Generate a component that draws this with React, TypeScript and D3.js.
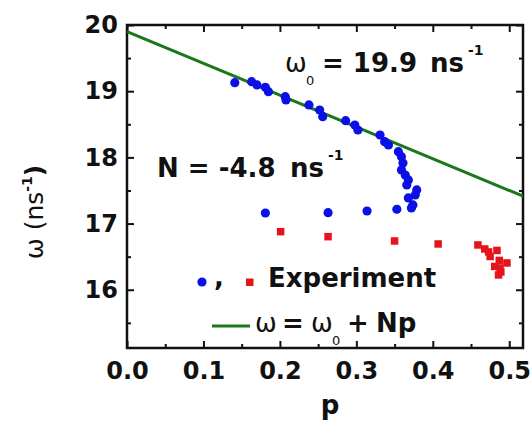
import { useRef, useEffect } from 'react';
import * as d3 from 'd3';

// blue circles (experiment, series 1)
const blueP = [
  0.141, 0.163, 0.17, 0.181, 0.185, 0.207, 0.208, 0.238, 0.252, 0.256, 0.286, 0.298, 0.302,
  0.331, 0.337, 0.342, 0.355, 0.359, 0.361, 0.359, 0.364, 0.368, 0.366, 0.379, 0.377, 0.368,
  0.374, 0.372, 0.181, 0.263, 0.314, 0.353,
];
const blueW = [
  19.128, 19.144, 19.094, 19.059, 18.992, 18.917, 18.867, 18.792, 18.716, 18.615, 18.554,
  18.489, 18.414, 18.338, 18.237, 18.187, 18.086, 18.011, 17.915, 17.81, 17.734, 17.659,
  17.583, 17.508, 17.432, 17.387, 17.281, 17.236, 17.16, 17.165, 17.19, 17.216,
];

// red squares (experiment, series 2)
const redP = [
  0.201, 0.263, 0.35, 0.407, 0.459, 0.468, 0.473, 0.484, 0.475, 0.487, 0.497, 0.481, 0.488,
  0.489, 0.486,
];
const redW = [
  16.878, 16.802, 16.737, 16.692, 16.677, 16.616, 16.571, 16.594, 16.503, 16.443, 16.405,
  16.352, 16.329, 16.269, 16.224,
];

// fit: omega = omega0 + N p
const omega0 = 19.9;
const slopeN = -4.8;

const xTicks = [0, 0.1, 0.2, 0.3, 0.4, 0.5];
const xMinor = [0.05, 0.15, 0.25, 0.35, 0.45];
const yTicks = [16, 17, 18, 19, 20];
const yMinor = [15.5, 16.5, 17.5, 18.5, 19.5];

const FONT = "'DejaVu Sans', sans-serif";

function App() {
  const svgRef = useRef<SVGSVGElement>(null);
  const width = 531;
  const height = 422;

  useEffect(() => {
    const margin = { top: 25, right: 8, bottom: 74, left: 127 };
    const svg = d3.select(svgRef.current);
    svg.selectAll('*').remove();

    const x = d3.scaleLinear().domain([0, 0.518]).range([margin.left, width - margin.right]);
    const y = d3.scaleLinear().domain([15.12, 20]).range([height - margin.bottom, margin.top]);

    const axisStyle = (g: any) => {
      g.select('.domain').remove();
      g.selectAll('line').attr('stroke', '#111').attr('stroke-width', 2);
      g.selectAll('text')
        .attr('fill', '#111')
        .style('font-family', FONT)
        .style('font-weight', 'bold')
        .style('font-size', '24px');
    };

    // bottom
    svg.append('g')
      .attr('transform', `translate(0,${y.range()[0]})`)
      .call(d3.axisBottom(x).tickValues(xTicks).tickSizeInner(-7).tickSizeOuter(0)
        .tickPadding(14).tickFormat(d3.format('.1f')))
      .call(axisStyle);
    svg.append('g')
      .attr('transform', `translate(0,${y.range()[0]})`)
      .call(d3.axisBottom(x).tickValues(xMinor).tickSizeInner(-4).tickSizeOuter(0).tickFormat(() => ''))
      .call(axisStyle);
    // top
    svg.append('g')
      .attr('transform', `translate(0,${margin.top})`)
      .call(d3.axisTop(x).tickValues(xTicks).tickSizeInner(-7).tickSizeOuter(0).tickFormat(() => ''))
      .call(axisStyle);
    svg.append('g')
      .attr('transform', `translate(0,${margin.top})`)
      .call(d3.axisTop(x).tickValues(xMinor).tickSizeInner(-4).tickSizeOuter(0).tickFormat(() => ''))
      .call(axisStyle);
    // left
    svg.append('g')
      .attr('transform', `translate(${margin.left},0)`)
      .call(d3.axisLeft(y).tickValues(yTicks).tickSizeInner(-7).tickSizeOuter(0).tickPadding(9)
        .tickFormat(d3.format('d')))
      .call(axisStyle);
    svg.append('g')
      .attr('transform', `translate(${margin.left},0)`)
      .call(d3.axisLeft(y).tickValues(yMinor).tickSizeInner(-4).tickSizeOuter(0).tickFormat(() => ''))
      .call(axisStyle);
    // right
    svg.append('g')
      .attr('transform', `translate(${width - margin.right},0)`)
      .call(d3.axisRight(y).tickValues(yTicks).tickSizeInner(-7).tickSizeOuter(0).tickFormat(() => ''))
      .call(axisStyle);
    svg.append('g')
      .attr('transform', `translate(${width - margin.right},0)`)
      .call(d3.axisRight(y).tickValues(yMinor).tickSizeInner(-4).tickSizeOuter(0).tickFormat(() => ''))
      .call(axisStyle);

    // frame
    svg.append('rect')
      .attr('x', margin.left)
      .attr('y', margin.top)
      .attr('width', width - margin.left - margin.right)
      .attr('height', height - margin.top - margin.bottom)
      .attr('fill', 'none')
      .attr('stroke', '#111')
      .attr('stroke-width', 2.5);

    // clip
    svg.append('clipPath').attr('id', 'plot-clip')
      .append('rect')
      .attr('x', margin.left)
      .attr('y', margin.top)
      .attr('width', width - margin.left - margin.right)
      .attr('height', height - margin.top - margin.bottom);

    // fit line
    const fitP = x.domain();
    const line = d3.line<number>().x((p) => x(p)).y((p) => y(omega0 + slopeN * p));
    svg.append('path')
      .datum(fitP)
      .attr('clip-path', 'url(#plot-clip)')
      .attr('d', line)
      .attr('fill', 'none')
      .attr('stroke', '#1a781a')
      .attr('stroke-width', 3);

    // blue points
    svg.selectAll('.blue')
      .data(blueP.map((p, i) => ({ p, w: blueW[i] })))
      .join('circle')
      .attr('class', 'blue')
      .attr('cx', (d) => x(d.p))
      .attr('cy', (d) => y(d.w))
      .attr('r', 4.6)
      .attr('fill', '#0a10e6');

    // red points
    const sq = 7.5;
    svg.selectAll('.red')
      .data(redP.map((p, i) => ({ p, w: redW[i] })))
      .join('rect')
      .attr('class', 'red')
      .attr('x', (d) => x(d.p) - sq / 2)
      .attr('y', (d) => y(d.w) - sq / 2)
      .attr('width', sq)
      .attr('height', sq)
      .attr('fill', '#e5141c');

    const label = (tx: number, ty: number, size: number) =>
      svg.append('text')
        .attr('x', tx)
        .attr('y', ty)
        .attr('fill', '#111')
        .style('font-family', FONT)
        .style('font-weight', 'bold')
        .style('font-size', `${size}px`);

    // x label
    label(330, 414, 26).attr('text-anchor', 'middle').text('p');

    // y label
    const yl = svg.append('text')
      .attr('transform', 'translate(43,212) rotate(-90)')
      .attr('text-anchor', 'middle')
      .attr('fill', '#111')
      .style('font-family', FONT)
      .style('font-weight', 'bold')
      .style('font-size', '25px');
    yl.append('tspan').style('font-weight', 'normal').text('ω (ns');
    yl.append('tspan').attr('dy', -11).style('font-size', '14px').text('-1');
    yl.append('tspan').attr('dy', 11).text(')');

    // omega0 annotation
    const a1 = label(285, 72, 26);
    a1.append('tspan').style('font-weight', 'normal').text('ω');
    a1.append('tspan').attr('x', 306).attr('dy', 13).style('font-size', '13px').style('font-weight', 'normal').text('0');
    a1.append('tspan').attr('x', 322).attr('dy', -13).text('= 19.9');
    a1.append('tspan').attr('x', 430).text('ns');
    a1.append('tspan').attr('x', 468).attr('dy', -17).style('font-size', '14px').text('-1');

    // N annotation
    const a2 = label(157, 177, 26);
    a2.append('tspan').text('N = -4.8');
    a2.append('tspan').attr('x', 290).text('ns');
    a2.append('tspan').attr('x', 328).attr('dy', -17).style('font-size', '14px').text('-1');

    // legend
    svg.append('circle').attr('cx', 202).attr('cy', 282).attr('r', 4.6).attr('fill', '#0a10e6');
    label(214, 286, 26).text(',');
    svg.append('rect').attr('x', 246).attr('y', 278.5).attr('width', sq).attr('height', sq).attr('fill', '#e5141c');
    label(268, 287, 26).text('Experiment');

    svg.append('line')
      .attr('x1', 212).attr('x2', 250).attr('y1', 326).attr('y2', 326)
      .attr('stroke', '#1a781a').attr('stroke-width', 3);
    const l2 = label(255, 332, 26);
    l2.append('tspan').style('font-weight', 'normal').text('ω');
    l2.append('tspan').attr('x', 282).text('=');
    l2.append('tspan').attr('x', 311).style('font-weight', 'normal').text('ω');
    l2.append('tspan').attr('x', 332).attr('dy', 13).style('font-size', '13px').style('font-weight', 'normal').text('0');
    l2.append('tspan').attr('x', 347).attr('dy', -13).text('+');
    l2.append('tspan').attr('x', 376).text('Np');
  }, []);

  return (
    <svg
      ref={svgRef}
      width={width}
      height={height}
      style={{ position: 'absolute', left: 0, top: 0, background: '#fff' }}
    ></svg>
  );
}

export default App;
